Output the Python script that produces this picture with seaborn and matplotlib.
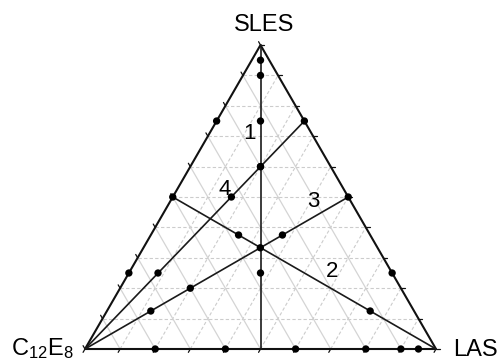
import numpy as np
import pandas as pd
import matplotlib
matplotlib.use('Agg')
import matplotlib.pyplot as plt
import seaborn as sns

sns.set_style("white")
plt.rcParams['font.family'] = ['Liberation Sans', 'DejaVu Sans']
plt.rcParams['text.color'] = 'black'
plt.rcParams['mathtext.fontset'] = 'custom'
plt.rcParams['mathtext.rm'] = 'Liberation Sans'
plt.rcParams['mathtext.it'] = 'Liberation Sans:italic'

H = np.sqrt(3) / 2

# ---- data (compositions as SLES / LAS fractions; C12E8 = rest) ----
line_ids = ['1', '2', '3', '4']
line_start_sles = [1.00, 0.50, 0.00, 0.00]
line_start_las = [0.00, 0.00, 0.00, 0.00]
line_end_sles = [0.00, 0.00, 0.50, 0.75]
line_end_las = [0.50, 1.00, 0.50, 0.25]

dots_sles = [0.95, 0.90, 0.75, 0.60, 0.333, 0.25,          # line 1
             0.50, 0.375, 0.125,                            # line 2
             0.50, 0.375, 0.20, 0.125,                      # line 3
             0.75, 0.60, 0.50, 0.25,                        # line 4
             0.75, 0.25,                                    # left edge
             0.25,                                          # right edge
             0.0, 0.0, 0.0, 0.0, 0.0, 0.0]                  # base
dots_las = [0.025, 0.05, 0.125, 0.20, 0.333, 0.375,
            0.00, 0.25, 0.75,
            0.50, 0.375, 0.20, 0.125,
            0.25, 0.20, 0.167, 0.083,
            0.00, 0.00,
            0.75,
            0.20, 0.40, 0.60, 0.80, 0.90, 0.95]

# label positions for the line numbers (pixel-read, cartesian)
label_x = [0.470, 0.704, 0.650, 0.397]
label_y = [0.613, 0.222, 0.419, 0.453]


def to_xy(sles, las):
    sles = np.asarray(sles, float)
    las = np.asarray(las, float)
    return las + sles / 2, sles * H


fig = plt.figure(figsize=(4.98, 3.63), dpi=100)
ax = fig.add_axes([0, 0, 1, 1])

# ---- grid ----
grid_c = '#cccccc'
for v in np.arange(0.1, 1.0, 0.1):
    # constant SLES (horizontal), dashed
    x, y = to_xy([v, v], [0, 1 - v])
    ax.plot(x, y, color=grid_c, lw=0.8, ls=(0, (3, 2)), zorder=1)
    # constant LAS, dashed
    x, y = to_xy([0, 1 - v], [v, v])
    ax.plot(x, y, color=grid_c, lw=0.8, ls=(0, (3, 2)), zorder=1)
    # constant C12E8, solid
    x, y = to_xy([0, 1 - v], [1 - v, 0])
    ax.plot(x, y, color='#d4d4d4', lw=0.9, zorder=1)

# ---- triangle frame ----
x, y = to_xy([0, 0, 1, 0], [0, 1, 0, 0])
ax.plot(x, y, color='#111111', lw=1.5, zorder=3)

# ---- ticks ----
L = 0.011
for v in np.arange(0, 1.01, 0.1):
    x, y = to_xy(v, 0)           # left edge
    ax.plot([x, x - L / 2], [y, y + L * H], color='#111111', lw=0.9, zorder=3)
    x, y = to_xy(v, 1 - v)       # right edge
    ax.plot([x, x + L], [y, y], color='#111111', lw=0.9, zorder=3)
    x, y = to_xy(0, v)           # base
    ax.plot([x, x - L / 2], [y, y - L * H], color='#111111', lw=0.9, zorder=3)

# ---- mixing lines ----
rows = []
for i, lid in enumerate(line_ids):
    for s, l in [(line_start_sles[i], line_start_las[i]), (line_end_sles[i], line_end_las[i])]:
        x, y = to_xy(s, l)
        rows.append({'line': lid, 'x': float(x), 'y': float(y)})
lines_df = pd.DataFrame(rows)
sns.lineplot(data=lines_df, x='x', y='y', units='line', estimator=None, sort=False,
             color='#1a1a1a', lw=1.2, ax=ax, zorder=4)

dx, dy = to_xy(dots_sles, dots_las)
dots_df = pd.DataFrame({'x': dx, 'y': dy})
sns.scatterplot(data=dots_df, x='x', y='y', color='black', s=28, edgecolor='none',
                ax=ax, zorder=5)

for lid, lx, ly in zip(line_ids, label_x, label_y):
    ax.text(lx, ly, lid, fontsize=16, color='black', ha='center', va='center', zorder=6)

# ---- corner labels ----
ax.text(0.509, 0.905, 'SLES', fontsize=17, color='black', ha='center', va='baseline')
ax.text(-0.032, -0.018, r'C$_{12}$E$_8$', fontsize=17, color='black', ha='right', va='baseline')
ax.text(1.048, -0.02, 'LAS', fontsize=17, color='black', ha='left', va='baseline')

ax.set_xlim(-85 / 351, 413 / 351)
ax.set_ylim(-14 / 351, 349 / 351)
ax.axis('off')

plt.savefig('out.png', dpi=100)
plt.close()
